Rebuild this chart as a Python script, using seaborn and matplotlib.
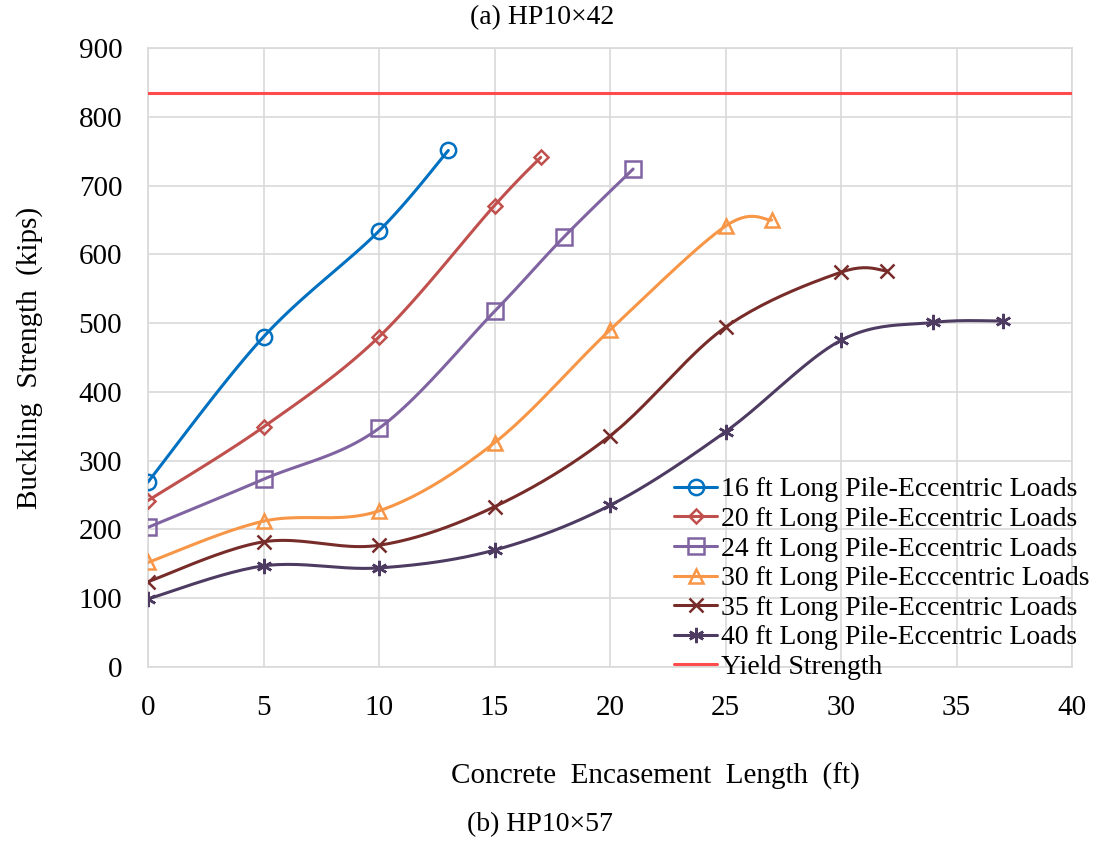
import numpy as np
import pandas as pd
import matplotlib
matplotlib.use("Agg")
import matplotlib.pyplot as plt
import seaborn as sns

# ---- data ----
x16 = [0, 5, 10, 13]
y16 = [269, 480, 634, 751]
x20 = [0, 5, 10, 15, 17]
y20 = [242, 349, 480, 671, 741]
x24 = [0, 5, 10, 15, 18, 21]
y24 = [203, 273, 347, 517, 625, 724]
x30 = [0, 5, 10, 15, 20, 25, 27]
y30 = [152, 212, 227, 326, 490, 641, 650]
x35 = [0, 5, 10, 15, 20, 25, 30, 32]
y35 = [124, 182, 177, 233, 336, 494, 574, 576]
x40 = [0, 5, 10, 15, 20, 25, 30, 34, 37]
y40 = [99, 147, 144, 170, 235, 342, 475, 501, 503]
yield_strength = 834

labels = ["16 ft Long Pile-Eccentric Loads",
          "20 ft Long Pile-Eccentric Loads",
          "24 ft Long Pile-Eccentric Loads",
          "30 ft Long Pile-Ecccentric Loads",
          "35 ft Long Pile-Eccentric Loads",
          "40 ft Long Pile-Eccentric Loads"]
yield_label = "Yield Strength"
x_ticks = [0, 5, 10, 15, 20, 25, 30, 35, 40]
y_ticks = [0, 100, 200, 300, 400, 500, 600, 700, 800, 900]

colors = ["#0070C0", "#C0504D", "#8064A2", "#F79646", "#772C2A", "#4D3B62"]
markers = ["o", "D", "s", "^", "x", (6, 2, 0)]
msizes = [11, 7.5, 11, 10, 10, 11]

sns.set_theme(style="white")
plt.rcParams["font.family"] = ["Liberation Serif", "DejaVu Serif"]
for k in ["text.color", "axes.labelcolor", "xtick.color", "ytick.color"]:
    plt.rcParams[k] = "black"

FS = 21
LFS = 20
TFS = 20


def smooth(xs, ys, n=24):
    """Excel-like smoothed curve (Catmull-Rom Bezier) for display only."""
    P = np.column_stack([xs, ys]).astype(float)
    m = len(P)
    out = [P[0]]
    t = np.linspace(0, 1, n + 1)[1:]
    for i in range(m - 1):
        p0 = P[i - 1] if i > 0 else P[i]
        p1 = P[i]
        p2 = P[i + 1]
        p3 = P[i + 2] if i + 2 < m else P[i + 1]
        c1 = p1 + (p2 - p0) / 6.0
        c2 = p2 - (p3 - p1) / 6.0
        for tt in t:
            b = ((1 - tt) ** 3) * p1 + 3 * ((1 - tt) ** 2) * tt * c1 + 3 * (1 - tt) * tt ** 2 * c2 + tt ** 3 * p2
            out.append(b)
    out = np.array(out)
    return out[:, 0], out[:, 1], list(range(0, len(out), n))


fig = plt.figure(figsize=(10.96, 8.41), dpi=100)
ax = fig.add_axes([148 / 1096, 1 - 667 / 841, (1072 - 148) / 1096, (667 - 48) / 841])

series = [(x16, y16), (x20, y20), (x24, y24), (x30, y30), (x35, y35), (x40, y40)]
for (xs, ys), lab, c, mk, ms in zip(series, labels, colors, markers, msizes):
    sx, sy, idx = smooth(xs, ys)
    df = pd.DataFrame({"x": sx, "y": sy})
    sns.lineplot(data=df, x="x", y="y", sort=False, estimator=None, ax=ax,
                 color=c, lw=2.2, marker=mk, markevery=idx, markersize=ms,
                 markerfacecolor="none", markeredgecolor=c, markeredgewidth=1.8,
                 label=lab, zorder=3)

ydf = pd.DataFrame({"x": [0, 40], "y": [yield_strength, yield_strength]})
sns.lineplot(data=ydf, x="x", y="y", ax=ax, color="#FF4B4B", lw=2.2,
             label=yield_label, zorder=3)

ax.set_xlim(0, 40)
ax.set_ylim(0, 900)
ax.set_xticks(x_ticks)
ax.set_yticks(y_ticks)
ax.tick_params(axis="both", length=0, labelsize=FS, colors="black")
ax.tick_params(axis="x", pad=20)
ax.tick_params(axis="y", pad=18.5)
ax.grid(True, color="#D9D9D9", lw=1.2)
for sp in ax.spines.values():
    sp.set_color("#D9D9D9")
    sp.set_linewidth(1.2)
ax.set_xlabel("")
ax.set_ylabel("Buckling  Strength  (kips)", fontsize=FS, labelpad=26, color="black")

leg = ax.legend(loc="upper left", bbox_to_anchor=(674 / 1096, 1 - 477 / 841),
                bbox_transform=fig.transFigure, frameon=False, fontsize=LFS,
                borderpad=0, borderaxespad=0, labelspacing=0.15,
                handlelength=1.55, handletextpad=0.15)
for t in leg.get_texts():
    t.set_color("black")

fig.text(542 / 1096, 1 - 18 / 841, "(a) HP10×42", ha="center", va="center", fontsize=TFS)
fig.text(655 / 1096, 1 - 776 / 841, "Concrete  Encasement  Length  (ft)", ha="center",
         va="center", fontsize=FS)
fig.text(540 / 1096, 1 - 825 / 841, "(b) HP10×57", ha="center", va="center", fontsize=TFS)

fig.savefig("out.png", dpi=100, facecolor="white")
